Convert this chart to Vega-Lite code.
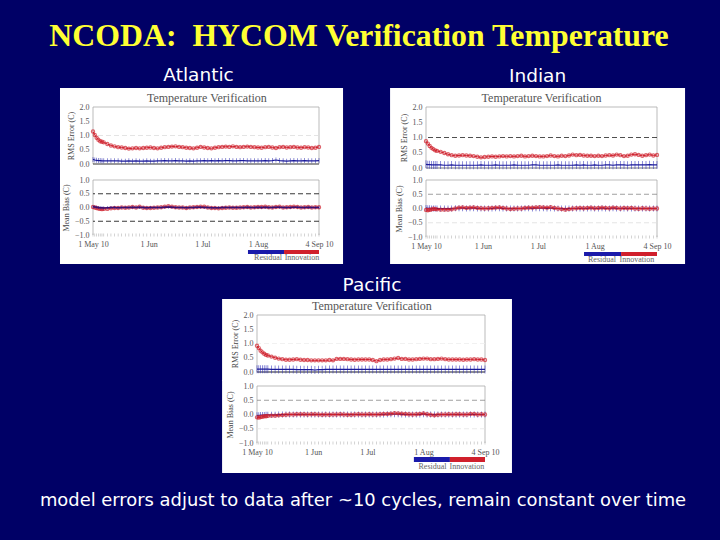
{
"$schema":"https://vega.github.io/schema/vega-lite/v6.json",
"background":"#000066",
"padding":0,
"config":{"view":{"stroke":null},"axis":{"labelFont":"Liberation Serif","titleFont":"Liberation Serif","labelFontSize":8,"titleFontSize":8,"labelColor":"#555","titleColor":"#444","titleFontWeight":"normal","grid":false,"domain":false,"ticks":false,"labelPadding":4,"titlePadding":4,"labelOverlap":false,"labelBound":false,"labelFlush":false},"title":{"fontWeight":"normal"}},
"datasets":{
"one":[{"n":1}],
"atl":[{"day":0,"rmsInn":1.14,"rmsRes":0.16,"biasInn":0.02,"biasRes":0.03},{"day":1,"rmsInn":1.02,"rmsRes":0.14,"biasInn":0.0,"biasRes":0.02},{"day":2,"rmsInn":0.92,"rmsRes":0.13,"biasInn":-0.02,"biasRes":0.01},{"day":3,"rmsInn":0.85,"rmsRes":0.12,"biasInn":-0.04,"biasRes":0.0},{"day":4,"rmsInn":0.8,"rmsRes":0.12,"biasInn":-0.05,"biasRes":-0.01},{"day":5,"rmsInn":0.78,"rmsRes":0.11,"biasInn":-0.06,"biasRes":-0.01},{"day":6,"rmsInn":0.76,"rmsRes":0.11,"biasInn":-0.05,"biasRes":-0.02},{"day":8,"rmsInn":0.7,"rmsRes":0.11,"biasInn":-0.05,"biasRes":-0.01},{"day":10,"rmsInn":0.65,"rmsRes":0.11,"biasInn":-0.03,"biasRes":0.0},{"day":12,"rmsInn":0.62,"rmsRes":0.11,"biasInn":-0.02,"biasRes":0.0},{"day":14,"rmsInn":0.59,"rmsRes":0.11,"biasInn":-0.02,"biasRes":-0.01},{"day":16,"rmsInn":0.58,"rmsRes":0.1,"biasInn":0.0,"biasRes":0.0},{"day":18,"rmsInn":0.56,"rmsRes":0.1,"biasInn":-0.01,"biasRes":0.0},{"day":20,"rmsInn":0.54,"rmsRes":0.11,"biasInn":0.0,"biasRes":0.0},{"day":22,"rmsInn":0.55,"rmsRes":0.1,"biasInn":0.02,"biasRes":0.01},{"day":24,"rmsInn":0.56,"rmsRes":0.11,"biasInn":0.0,"biasRes":0.0},{"day":26,"rmsInn":0.55,"rmsRes":0.1,"biasInn":0.03,"biasRes":0.01},{"day":28,"rmsInn":0.56,"rmsRes":0.1,"biasInn":-0.01,"biasRes":0.0},{"day":30,"rmsInn":0.57,"rmsRes":0.11,"biasInn":-0.02,"biasRes":-0.01},{"day":32,"rmsInn":0.58,"rmsRes":0.1,"biasInn":-0.02,"biasRes":0.0},{"day":34,"rmsInn":0.56,"rmsRes":0.1,"biasInn":-0.01,"biasRes":0.0},{"day":36,"rmsInn":0.55,"rmsRes":0.11,"biasInn":0.0,"biasRes":0.0},{"day":38,"rmsInn":0.57,"rmsRes":0.11,"biasInn":0.01,"biasRes":0.0},{"day":40,"rmsInn":0.59,"rmsRes":0.12,"biasInn":0.03,"biasRes":0.01},{"day":42,"rmsInn":0.6,"rmsRes":0.11,"biasInn":0.05,"biasRes":0.02},{"day":44,"rmsInn":0.61,"rmsRes":0.11,"biasInn":0.03,"biasRes":0.01},{"day":46,"rmsInn":0.62,"rmsRes":0.12,"biasInn":0.01,"biasRes":0.0},{"day":48,"rmsInn":0.6,"rmsRes":0.11,"biasInn":0.0,"biasRes":0.0},{"day":50,"rmsInn":0.59,"rmsRes":0.11,"biasInn":0.0,"biasRes":0.0},{"day":52,"rmsInn":0.57,"rmsRes":0.1,"biasInn":-0.02,"biasRes":-0.01},{"day":54,"rmsInn":0.56,"rmsRes":0.11,"biasInn":0.0,"biasRes":0.0},{"day":56,"rmsInn":0.55,"rmsRes":0.1,"biasInn":0.01,"biasRes":0.0},{"day":58,"rmsInn":0.57,"rmsRes":0.11,"biasInn":0.02,"biasRes":0.01},{"day":60,"rmsInn":0.6,"rmsRes":0.11,"biasInn":0.03,"biasRes":0.01},{"day":62,"rmsInn":0.58,"rmsRes":0.12,"biasInn":0.03,"biasRes":0.0},{"day":64,"rmsInn":0.56,"rmsRes":0.11,"biasInn":0.0,"biasRes":0.0},{"day":66,"rmsInn":0.55,"rmsRes":0.12,"biasInn":-0.02,"biasRes":-0.01},{"day":68,"rmsInn":0.57,"rmsRes":0.11,"biasInn":-0.02,"biasRes":-0.01},{"day":70,"rmsInn":0.59,"rmsRes":0.12,"biasInn":-0.03,"biasRes":-0.01},{"day":72,"rmsInn":0.6,"rmsRes":0.11,"biasInn":-0.02,"biasRes":0.0},{"day":74,"rmsInn":0.61,"rmsRes":0.12,"biasInn":-0.01,"biasRes":0.0},{"day":76,"rmsInn":0.6,"rmsRes":0.12,"biasInn":0.0,"biasRes":0.0},{"day":78,"rmsInn":0.62,"rmsRes":0.11,"biasInn":-0.01,"biasRes":0.0},{"day":80,"rmsInn":0.6,"rmsRes":0.11,"biasInn":-0.01,"biasRes":0.0},{"day":82,"rmsInn":0.59,"rmsRes":0.12,"biasInn":0.0,"biasRes":0.0},{"day":84,"rmsInn":0.6,"rmsRes":0.12,"biasInn":0.01,"biasRes":0.0},{"day":86,"rmsInn":0.61,"rmsRes":0.11,"biasInn":0.02,"biasRes":0.01},{"day":88,"rmsInn":0.6,"rmsRes":0.11,"biasInn":0.0,"biasRes":0.0},{"day":90,"rmsInn":0.59,"rmsRes":0.11,"biasInn":0.01,"biasRes":0.0},{"day":92,"rmsInn":0.58,"rmsRes":0.11,"biasInn":0.02,"biasRes":0.01},{"day":94,"rmsInn":0.57,"rmsRes":0.11,"biasInn":0.02,"biasRes":0.0},{"day":96,"rmsInn":0.59,"rmsRes":0.12,"biasInn":0.03,"biasRes":0.01},{"day":98,"rmsInn":0.6,"rmsRes":0.11,"biasInn":0.01,"biasRes":0.0},{"day":100,"rmsInn":0.58,"rmsRes":0.12,"biasInn":0.0,"biasRes":0.0},{"day":102,"rmsInn":0.56,"rmsRes":0.14,"biasInn":0.02,"biasRes":0.01},{"day":104,"rmsInn":0.59,"rmsRes":0.12,"biasInn":0.03,"biasRes":0.01},{"day":106,"rmsInn":0.6,"rmsRes":0.11,"biasInn":0.0,"biasRes":0.0},{"day":108,"rmsInn":0.58,"rmsRes":0.1,"biasInn":0.01,"biasRes":0.0},{"day":110,"rmsInn":0.59,"rmsRes":0.11,"biasInn":0.02,"biasRes":0.0},{"day":112,"rmsInn":0.6,"rmsRes":0.12,"biasInn":0.03,"biasRes":0.01},{"day":114,"rmsInn":0.58,"rmsRes":0.11,"biasInn":0.02,"biasRes":0.01},{"day":116,"rmsInn":0.57,"rmsRes":0.11,"biasInn":0.0,"biasRes":0.0},{"day":118,"rmsInn":0.59,"rmsRes":0.12,"biasInn":0.01,"biasRes":0.0},{"day":120,"rmsInn":0.58,"rmsRes":0.11,"biasInn":0.02,"biasRes":0.01},{"day":122,"rmsInn":0.56,"rmsRes":0.11,"biasInn":0.0,"biasRes":0.0},{"day":124,"rmsInn":0.57,"rmsRes":0.11,"biasInn":0.01,"biasRes":0.0},{"day":126,"rmsInn":0.6,"rmsRes":0.12,"biasInn":0.01,"biasRes":0.0}],
"ind":[{"day":0,"rmsInn":0.88,"rmsRes":0.12,"biasInn":-0.05,"biasRes":0.02},{"day":1,"rmsInn":0.8,"rmsRes":0.11,"biasInn":-0.06,"biasRes":0.01},{"day":2,"rmsInn":0.72,"rmsRes":0.11,"biasInn":-0.05,"biasRes":0.01},{"day":3,"rmsInn":0.66,"rmsRes":0.1,"biasInn":-0.03,"biasRes":0.0},{"day":4,"rmsInn":0.62,"rmsRes":0.1,"biasInn":-0.01,"biasRes":0.0},{"day":5,"rmsInn":0.58,"rmsRes":0.1,"biasInn":-0.02,"biasRes":0.0},{"day":6,"rmsInn":0.56,"rmsRes":0.1,"biasInn":-0.03,"biasRes":0.0},{"day":8,"rmsInn":0.53,"rmsRes":0.1,"biasInn":-0.04,"biasRes":0.0},{"day":10,"rmsInn":0.49,"rmsRes":0.09,"biasInn":-0.04,"biasRes":0.0},{"day":12,"rmsInn":0.45,"rmsRes":0.09,"biasInn":-0.04,"biasRes":0.0},{"day":14,"rmsInn":0.42,"rmsRes":0.1,"biasInn":-0.03,"biasRes":0.0},{"day":16,"rmsInn":0.4,"rmsRes":0.09,"biasInn":0.0,"biasRes":0.01},{"day":18,"rmsInn":0.41,"rmsRes":0.09,"biasInn":0.03,"biasRes":0.01},{"day":20,"rmsInn":0.42,"rmsRes":0.09,"biasInn":0.04,"biasRes":0.01},{"day":22,"rmsInn":0.41,"rmsRes":0.09,"biasInn":0.02,"biasRes":0.0},{"day":24,"rmsInn":0.4,"rmsRes":0.09,"biasInn":0.03,"biasRes":0.01},{"day":26,"rmsInn":0.39,"rmsRes":0.09,"biasInn":0.04,"biasRes":0.01},{"day":28,"rmsInn":0.37,"rmsRes":0.09,"biasInn":0.02,"biasRes":0.0},{"day":30,"rmsInn":0.35,"rmsRes":0.1,"biasInn":0.01,"biasRes":0.0},{"day":32,"rmsInn":0.36,"rmsRes":0.09,"biasInn":0.0,"biasRes":0.0},{"day":34,"rmsInn":0.37,"rmsRes":0.09,"biasInn":0.01,"biasRes":0.0},{"day":36,"rmsInn":0.38,"rmsRes":0.09,"biasInn":0.02,"biasRes":0.0},{"day":38,"rmsInn":0.37,"rmsRes":0.1,"biasInn":0.03,"biasRes":0.01},{"day":40,"rmsInn":0.38,"rmsRes":0.09,"biasInn":0.04,"biasRes":0.01},{"day":42,"rmsInn":0.39,"rmsRes":0.09,"biasInn":0.02,"biasRes":0.0},{"day":44,"rmsInn":0.38,"rmsRes":0.09,"biasInn":0.0,"biasRes":0.0},{"day":46,"rmsInn":0.39,"rmsRes":0.09,"biasInn":-0.02,"biasRes":0.0},{"day":48,"rmsInn":0.38,"rmsRes":0.1,"biasInn":-0.01,"biasRes":0.0},{"day":50,"rmsInn":0.39,"rmsRes":0.09,"biasInn":0.0,"biasRes":0.0},{"day":52,"rmsInn":0.4,"rmsRes":0.09,"biasInn":0.0,"biasRes":0.0},{"day":54,"rmsInn":0.38,"rmsRes":0.09,"biasInn":0.02,"biasRes":0.01},{"day":56,"rmsInn":0.39,"rmsRes":0.09,"biasInn":0.03,"biasRes":0.01},{"day":58,"rmsInn":0.4,"rmsRes":0.1,"biasInn":0.03,"biasRes":0.0},{"day":60,"rmsInn":0.39,"rmsRes":0.1,"biasInn":0.04,"biasRes":0.01},{"day":62,"rmsInn":0.38,"rmsRes":0.09,"biasInn":0.05,"biasRes":0.01},{"day":64,"rmsInn":0.38,"rmsRes":0.09,"biasInn":0.04,"biasRes":0.01},{"day":66,"rmsInn":0.39,"rmsRes":0.09,"biasInn":0.03,"biasRes":0.0},{"day":68,"rmsInn":0.41,"rmsRes":0.09,"biasInn":0.05,"biasRes":0.01},{"day":70,"rmsInn":0.39,"rmsRes":0.09,"biasInn":0.02,"biasRes":0.0},{"day":72,"rmsInn":0.38,"rmsRes":0.1,"biasInn":0.0,"biasRes":0.0},{"day":74,"rmsInn":0.4,"rmsRes":0.09,"biasInn":-0.02,"biasRes":0.0},{"day":76,"rmsInn":0.39,"rmsRes":0.09,"biasInn":-0.04,"biasRes":0.0},{"day":78,"rmsInn":0.41,"rmsRes":0.09,"biasInn":-0.02,"biasRes":0.0},{"day":80,"rmsInn":0.44,"rmsRes":0.09,"biasInn":0.0,"biasRes":0.0},{"day":82,"rmsInn":0.42,"rmsRes":0.1,"biasInn":0.01,"biasRes":0.0},{"day":84,"rmsInn":0.43,"rmsRes":0.09,"biasInn":0.02,"biasRes":0.0},{"day":86,"rmsInn":0.41,"rmsRes":0.1,"biasInn":0.01,"biasRes":0.0},{"day":88,"rmsInn":0.4,"rmsRes":0.09,"biasInn":0.02,"biasRes":0.0},{"day":90,"rmsInn":0.4,"rmsRes":0.09,"biasInn":0.03,"biasRes":0.01},{"day":92,"rmsInn":0.39,"rmsRes":0.1,"biasInn":0.01,"biasRes":0.0},{"day":94,"rmsInn":0.4,"rmsRes":0.09,"biasInn":0.02,"biasRes":0.0},{"day":96,"rmsInn":0.39,"rmsRes":0.09,"biasInn":0.03,"biasRes":0.01},{"day":98,"rmsInn":0.41,"rmsRes":0.1,"biasInn":0.02,"biasRes":0.0},{"day":100,"rmsInn":0.42,"rmsRes":0.1,"biasInn":0.01,"biasRes":0.0},{"day":102,"rmsInn":0.41,"rmsRes":0.09,"biasInn":0.03,"biasRes":0.01},{"day":104,"rmsInn":0.44,"rmsRes":0.1,"biasInn":0.02,"biasRes":0.0},{"day":106,"rmsInn":0.42,"rmsRes":0.1,"biasInn":0.0,"biasRes":0.0},{"day":108,"rmsInn":0.39,"rmsRes":0.1,"biasInn":0.02,"biasRes":0.0},{"day":110,"rmsInn":0.4,"rmsRes":0.09,"biasInn":0.01,"biasRes":0.0},{"day":112,"rmsInn":0.44,"rmsRes":0.1,"biasInn":0.02,"biasRes":0.0},{"day":114,"rmsInn":0.45,"rmsRes":0.1,"biasInn":0.0,"biasRes":0.0},{"day":116,"rmsInn":0.43,"rmsRes":0.1,"biasInn":-0.01,"biasRes":0.0},{"day":118,"rmsInn":0.4,"rmsRes":0.1,"biasInn":0.01,"biasRes":0.0},{"day":120,"rmsInn":0.42,"rmsRes":0.1,"biasInn":0.0,"biasRes":0.0},{"day":122,"rmsInn":0.44,"rmsRes":0.11,"biasInn":-0.01,"biasRes":0.0},{"day":124,"rmsInn":0.41,"rmsRes":0.1,"biasInn":0.0,"biasRes":0.0},{"day":126,"rmsInn":0.43,"rmsRes":0.1,"biasInn":0.0,"biasRes":0.0}],
"pac":[{"day":0,"rmsInn":0.92,"rmsRes":0.1,"biasInn":-0.1,"biasRes":-0.03},{"day":1,"rmsInn":0.84,"rmsRes":0.1,"biasInn":-0.11,"biasRes":-0.03},{"day":2,"rmsInn":0.75,"rmsRes":0.1,"biasInn":-0.09,"biasRes":-0.02},{"day":3,"rmsInn":0.69,"rmsRes":0.1,"biasInn":-0.08,"biasRes":-0.02},{"day":4,"rmsInn":0.64,"rmsRes":0.1,"biasInn":-0.06,"biasRes":-0.02},{"day":5,"rmsInn":0.6,"rmsRes":0.1,"biasInn":-0.06,"biasRes":-0.01},{"day":6,"rmsInn":0.58,"rmsRes":0.1,"biasInn":-0.05,"biasRes":-0.01},{"day":8,"rmsInn":0.54,"rmsRes":0.09,"biasInn":-0.04,"biasRes":-0.01},{"day":10,"rmsInn":0.5,"rmsRes":0.09,"biasInn":-0.04,"biasRes":-0.01},{"day":12,"rmsInn":0.47,"rmsRes":0.09,"biasInn":-0.03,"biasRes":0.0},{"day":14,"rmsInn":0.45,"rmsRes":0.09,"biasInn":-0.02,"biasRes":0.0},{"day":16,"rmsInn":0.43,"rmsRes":0.09,"biasInn":-0.01,"biasRes":0.0},{"day":18,"rmsInn":0.43,"rmsRes":0.09,"biasInn":0.0,"biasRes":0.0},{"day":20,"rmsInn":0.44,"rmsRes":0.09,"biasInn":0.0,"biasRes":0.0},{"day":22,"rmsInn":0.45,"rmsRes":0.08,"biasInn":0.01,"biasRes":0.0},{"day":24,"rmsInn":0.43,"rmsRes":0.08,"biasInn":0.01,"biasRes":0.0},{"day":26,"rmsInn":0.42,"rmsRes":0.08,"biasInn":0.01,"biasRes":0.0},{"day":28,"rmsInn":0.42,"rmsRes":0.08,"biasInn":0.0,"biasRes":0.0},{"day":30,"rmsInn":0.41,"rmsRes":0.08,"biasInn":0.01,"biasRes":0.0},{"day":32,"rmsInn":0.41,"rmsRes":0.07,"biasInn":0.01,"biasRes":0.0},{"day":34,"rmsInn":0.41,"rmsRes":0.08,"biasInn":0.0,"biasRes":0.0},{"day":36,"rmsInn":0.41,"rmsRes":0.08,"biasInn":-0.01,"biasRes":0.0},{"day":38,"rmsInn":0.41,"rmsRes":0.09,"biasInn":0.0,"biasRes":0.0},{"day":40,"rmsInn":0.42,"rmsRes":0.09,"biasInn":-0.01,"biasRes":0.0},{"day":42,"rmsInn":0.41,"rmsRes":0.09,"biasInn":0.0,"biasRes":0.0},{"day":44,"rmsInn":0.46,"rmsRes":0.09,"biasInn":0.0,"biasRes":0.0},{"day":46,"rmsInn":0.46,"rmsRes":0.09,"biasInn":0.01,"biasRes":0.0},{"day":48,"rmsInn":0.46,"rmsRes":0.09,"biasInn":0.0,"biasRes":0.0},{"day":50,"rmsInn":0.45,"rmsRes":0.09,"biasInn":-0.01,"biasRes":0.0},{"day":52,"rmsInn":0.44,"rmsRes":0.09,"biasInn":-0.01,"biasRes":0.0},{"day":54,"rmsInn":0.43,"rmsRes":0.09,"biasInn":0.0,"biasRes":0.0},{"day":56,"rmsInn":0.44,"rmsRes":0.09,"biasInn":0.01,"biasRes":0.0},{"day":58,"rmsInn":0.44,"rmsRes":0.09,"biasInn":0.0,"biasRes":0.0},{"day":60,"rmsInn":0.44,"rmsRes":0.09,"biasInn":0.0,"biasRes":0.0},{"day":62,"rmsInn":0.44,"rmsRes":0.09,"biasInn":0.01,"biasRes":0.0},{"day":64,"rmsInn":0.42,"rmsRes":0.09,"biasInn":0.0,"biasRes":0.0},{"day":66,"rmsInn":0.38,"rmsRes":0.09,"biasInn":0.0,"biasRes":0.0},{"day":68,"rmsInn":0.42,"rmsRes":0.09,"biasInn":0.01,"biasRes":0.0},{"day":70,"rmsInn":0.44,"rmsRes":0.09,"biasInn":0.02,"biasRes":0.0},{"day":72,"rmsInn":0.44,"rmsRes":0.09,"biasInn":0.02,"biasRes":0.01},{"day":74,"rmsInn":0.45,"rmsRes":0.09,"biasInn":0.03,"biasRes":0.01},{"day":76,"rmsInn":0.47,"rmsRes":0.09,"biasInn":0.05,"biasRes":0.01},{"day":78,"rmsInn":0.49,"rmsRes":0.09,"biasInn":0.04,"biasRes":0.01},{"day":80,"rmsInn":0.46,"rmsRes":0.09,"biasInn":0.03,"biasRes":0.0},{"day":82,"rmsInn":0.46,"rmsRes":0.09,"biasInn":0.02,"biasRes":0.0},{"day":84,"rmsInn":0.44,"rmsRes":0.09,"biasInn":0.01,"biasRes":0.0},{"day":86,"rmsInn":0.44,"rmsRes":0.09,"biasInn":0.0,"biasRes":0.0},{"day":88,"rmsInn":0.45,"rmsRes":0.09,"biasInn":0.01,"biasRes":0.0},{"day":90,"rmsInn":0.46,"rmsRes":0.09,"biasInn":0.02,"biasRes":0.0},{"day":92,"rmsInn":0.47,"rmsRes":0.09,"biasInn":0.04,"biasRes":0.01},{"day":94,"rmsInn":0.47,"rmsRes":0.09,"biasInn":0.01,"biasRes":0.0},{"day":96,"rmsInn":0.45,"rmsRes":0.09,"biasInn":-0.01,"biasRes":0.0},{"day":98,"rmsInn":0.45,"rmsRes":0.09,"biasInn":-0.03,"biasRes":0.0},{"day":100,"rmsInn":0.46,"rmsRes":0.09,"biasInn":-0.01,"biasRes":0.0},{"day":102,"rmsInn":0.47,"rmsRes":0.09,"biasInn":0.0,"biasRes":0.0},{"day":104,"rmsInn":0.45,"rmsRes":0.09,"biasInn":0.0,"biasRes":0.0},{"day":106,"rmsInn":0.44,"rmsRes":0.09,"biasInn":0.01,"biasRes":0.0},{"day":108,"rmsInn":0.44,"rmsRes":0.09,"biasInn":0.0,"biasRes":0.0},{"day":110,"rmsInn":0.44,"rmsRes":0.09,"biasInn":0.01,"biasRes":0.0},{"day":112,"rmsInn":0.44,"rmsRes":0.09,"biasInn":0.01,"biasRes":0.0},{"day":114,"rmsInn":0.43,"rmsRes":0.09,"biasInn":0.0,"biasRes":0.0},{"day":116,"rmsInn":0.44,"rmsRes":0.09,"biasInn":0.0,"biasRes":0.0},{"day":118,"rmsInn":0.44,"rmsRes":0.09,"biasInn":0.02,"biasRes":0.0},{"day":120,"rmsInn":0.45,"rmsRes":0.09,"biasInn":0.02,"biasRes":0.0},{"day":122,"rmsInn":0.44,"rmsRes":0.09,"biasInn":0.0,"biasRes":0.0},{"day":124,"rmsInn":0.44,"rmsRes":0.09,"biasInn":0.01,"biasRes":0.0},{"day":126,"rmsInn":0.42,"rmsRes":0.09,"biasInn":0.0,"biasRes":0.0}]
},
"spacing":0,
"vconcat":[
{"width":720,"height":66,"data":{"values":[{"label":"NCODA:\u00a0 HYCOM Verification Temperature"}]},"mark":{"type":"text","font":"Liberation Serif","fontWeight":"bold","fontSize":31.8,"color":"#FFFF33","dx":-1,"dy":3},"encoding":{"text":{"field":"label"}}},
{"spacing":0,"hconcat":[
{"width":59,"height":1,"data":{"values":[]},"mark":"text"},
{"spacing":-1,"title":{"text":"Atlantic","font":"DejaVu Sans","fontSize":18.5,"color":"#ffffff","anchor":"middle","dx":-3,"offset":3},"vconcat":[
{"width":226,"height":57,"layer":[
{"data":{"name":"one"},"mark":{"type":"rect","color":"#ffffff"},"encoding":{"x":{"datum":-18.4,"type":"quantitative","scale":{"domain":[0,126],"nice":false},"axis":null},"x2":{"datum":139.4},"y":{"datum":2.67,"type":"quantitative","scale":{"domain":[0,2],"nice":false},"axis":{"values":[0,0.5,1,1.5,2],"tickCount":5,"format":".1f","title":"RMS Error (C)","zindex":1}},"y2":{"datum":-0.351}}},
{"data":{"name":"one"},"mark":{"type":"text","font":"Liberation Serif","fontSize":12,"color":"#555555","text":"Temperature Verification"},"encoding":{"x":{"datum":63.5},"y":{"datum":2.32}}},
{"data":{"name":"one"},"mark":{"type":"rule","color":"#aaaaaa","size":0.8},"encoding":{"y":{"datum":2}}},
{"data":{"name":"one"},"mark":{"type":"rule","color":"#aaaaaa","size":0.8},"encoding":{"x":{"datum":0}}},
{"data":{"name":"one"},"mark":{"type":"rule","color":"#aaaaaa","size":0.8},"encoding":{"x":{"datum":126}}},
{"data":{"name":"one"},"mark":{"type":"rule","color":"#dddddd","size":0.8,"strokeDash":[5,3]},"encoding":{"y":{"datum":1}}},
{"data":{"name":"one"},"mark":{"type":"rule","color":"#333333","size":1},"encoding":{"y":{"datum":0}}},
{"data":{"name":"atl"},"mark":{"type":"tick","color":"#2222aa","size":5,"thickness":0.7},"encoding":{"x":{"field":"day","type":"quantitative"},"y":{"field":"rmsRes","type":"quantitative"}}},
{"data":{"name":"atl"},"mark":{"type":"line","color":"#1a1a99","strokeWidth":1.2},"encoding":{"x":{"field":"day","type":"quantitative"},"y":{"field":"rmsRes","type":"quantitative"}}},
{"data":{"name":"atl"},"mark":{"type":"line","color":"#d0202c","strokeWidth":1},"encoding":{"x":{"field":"day","type":"quantitative"},"y":{"field":"rmsInn","type":"quantitative"}}},
{"data":{"name":"atl"},"mark":{"type":"point","color":"#d0202c","size":10,"strokeWidth":1.2},"encoding":{"x":{"field":"day","type":"quantitative"},"y":{"field":"rmsInn","type":"quantitative"}}}
]},
{"width":226,"height":55,"layer":[
{"data":{"name":"one"},"mark":{"type":"rect","color":"#ffffff"},"encoding":{"x":{"datum":-18.4,"type":"quantitative","scale":{"domain":[0,126],"nice":false},"axis":{"values":[0,31,61,92,126],"labelExpr":"{0:'1 May 10',31:'1 Jun',61:'1 Jul',92:'1 Aug',126:'4 Sep 10'}[datum.value]","title":null,"labelPadding":5,"zindex":1}},"x2":{"datum":139.4},"y":{"datum":1.218,"type":"quantitative","scale":{"domain":[-1,1],"nice":false},"axis":{"values":[-1,-0.5,0,0.5,1],"tickCount":5,"format":".1f","title":"Mean Bias (C)","zindex":1}},"y2":{"datum":-2.05}}},
{"data":{"name":"one"},"mark":{"type":"rule","color":"#aaaaaa","size":0.8},"encoding":{"y":{"datum":1}}},
{"data":{"name":"one"},"mark":{"type":"rule","color":"#aaaaaa","size":0.8},"encoding":{"x":{"datum":0}}},
{"data":{"name":"one"},"mark":{"type":"rule","color":"#aaaaaa","size":0.8},"encoding":{"x":{"datum":126}}},
{"data":{"name":"one"},"mark":{"type":"rule","color":"#222222","size":0.9,"strokeDash":[5,3]},"encoding":{"y":{"datum":0.5}}},
{"data":{"name":"one"},"mark":{"type":"rule","color":"#222222","size":0.9,"strokeDash":[5,3]},"encoding":{"y":{"datum":-0.5}}},
{"data":{"name":"atl"},"mark":{"type":"tick","color":"#999999","size":3,"thickness":0.6},"encoding":{"x":{"field":"day","type":"quantitative"},"y":{"datum":-1}}},
{"data":{"name":"atl"},"mark":{"type":"line","color":"#d0202c","strokeWidth":1},"encoding":{"x":{"field":"day","type":"quantitative"},"y":{"field":"biasInn","type":"quantitative"}}},
{"data":{"name":"atl"},"mark":{"type":"point","color":"#d0202c","size":10,"strokeWidth":1.2},"encoding":{"x":{"field":"day","type":"quantitative"},"y":{"field":"biasInn","type":"quantitative"}}},
{"data":{"name":"atl"},"mark":{"type":"tick","color":"#2222aa","size":3,"thickness":0.7,"opacity":0.8},"encoding":{"x":{"field":"day","type":"quantitative"},"y":{"field":"biasRes","type":"quantitative"}}},
{"data":{"name":"atl"},"mark":{"type":"line","color":"#3a1070","strokeWidth":1.4},"encoding":{"x":{"field":"day","type":"quantitative"},"y":{"field":"biasRes","type":"quantitative"}}},
{"data":{"name":"one"},"mark":{"type":"rect","color":"#1a1aaa"},"encoding":{"x":{"datum":86.4},"x2":{"datum":106.5},"y":{"datum":-1.545},"y2":{"datum":-1.69}}},
{"data":{"name":"one"},"mark":{"type":"rect","color":"#d0202c"},"encoding":{"x":{"datum":106.5},"x2":{"datum":126},"y":{"datum":-1.545},"y2":{"datum":-1.69}}},
{"data":{"name":"one"},"mark":{"type":"text","font":"Liberation Serif","fontSize":8,"color":"#666666","text":"Residual"},"encoding":{"x":{"datum":97.6},"y":{"datum":-1.84}}},
{"data":{"name":"one"},"mark":{"type":"text","font":"Liberation Serif","fontSize":8,"color":"#666666","text":"Innovation"},"encoding":{"x":{"datum":116.5},"y":{"datum":-1.84}}}
]}
]},
{"width":46,"height":1,"data":{"values":[]},"mark":"text"},
{"spacing":-1,"title":{"text":"Indian","font":"DejaVu Sans","fontSize":18.5,"color":"#ffffff","anchor":"middle","offset":3},"vconcat":[
{"width":231,"height":61,"layer":[
{"data":{"name":"one"},"mark":{"type":"rect","color":"#ffffff"},"encoding":{"x":{"datum":-19.6,"type":"quantitative","scale":{"domain":[0,126],"nice":false},"axis":null},"x2":{"datum":141.3},"y":{"datum":2.62,"type":"quantitative","scale":{"domain":[0,2],"nice":false},"axis":{"values":[0,0.5,1,1.5,2],"tickCount":5,"format":".1f","title":"RMS Error (C)","zindex":1}},"y2":{"datum":-0.197}}},
{"data":{"name":"one"},"mark":{"type":"text","font":"Liberation Serif","fontSize":12,"color":"#555555","text":"Temperature Verification"},"encoding":{"x":{"datum":63},"y":{"datum":2.3}}},
{"data":{"name":"one"},"mark":{"type":"rule","color":"#aaaaaa","size":0.8},"encoding":{"y":{"datum":2}}},
{"data":{"name":"one"},"mark":{"type":"rule","color":"#aaaaaa","size":0.8},"encoding":{"x":{"datum":0}}},
{"data":{"name":"one"},"mark":{"type":"rule","color":"#aaaaaa","size":0.8},"encoding":{"x":{"datum":126}}},
{"data":{"name":"one"},"mark":{"type":"rule","color":"#222222","size":0.8,"strokeDash":[5,3]},"encoding":{"y":{"datum":1}}},
{"data":{"name":"one"},"mark":{"type":"rule","color":"#777777","size":1},"encoding":{"y":{"datum":0}}},
{"data":{"name":"ind"},"mark":{"type":"tick","color":"#3333bb","size":8,"thickness":0.7,"opacity":0.8},"encoding":{"x":{"field":"day","type":"quantitative"},"y":{"field":"rmsRes","type":"quantitative"}}},
{"data":{"name":"ind"},"mark":{"type":"line","color":"#1a1a99","strokeWidth":1.2},"encoding":{"x":{"field":"day","type":"quantitative"},"y":{"field":"rmsRes","type":"quantitative"}}},
{"data":{"name":"ind"},"mark":{"type":"line","color":"#d0202c","strokeWidth":1},"encoding":{"x":{"field":"day","type":"quantitative"},"y":{"field":"rmsInn","type":"quantitative"}}},
{"data":{"name":"ind"},"mark":{"type":"point","color":"#d0202c","size":10,"strokeWidth":1.2},"encoding":{"x":{"field":"day","type":"quantitative"},"y":{"field":"rmsInn","type":"quantitative"}}}
]},
{"width":231,"height":57,"layer":[
{"data":{"name":"one"},"mark":{"type":"rect","color":"#ffffff"},"encoding":{"x":{"datum":-19.6,"type":"quantitative","scale":{"domain":[0,126],"nice":false},"axis":{"values":[0,31,61,92,126],"labelExpr":"{0:'1 May 10',31:'1 Jun',61:'1 Jul',92:'1 Aug',126:'4 Sep 10'}[datum.value]","title":null,"labelPadding":5,"zindex":1}},"x2":{"datum":141.3},"y":{"datum":1.21,"type":"quantitative","scale":{"domain":[-1,1],"nice":false},"axis":{"values":[-1,-0.5,0,0.5,1],"tickCount":5,"format":".1f","title":"Mean Bias (C)","zindex":1}},"y2":{"datum":-1.95}}},
{"data":{"name":"one"},"mark":{"type":"rule","color":"#aaaaaa","size":0.8},"encoding":{"y":{"datum":1}}},
{"data":{"name":"one"},"mark":{"type":"rule","color":"#aaaaaa","size":0.8},"encoding":{"x":{"datum":0}}},
{"data":{"name":"one"},"mark":{"type":"rule","color":"#aaaaaa","size":0.8},"encoding":{"x":{"datum":126}}},
{"data":{"name":"one"},"mark":{"type":"rule","color":"#888888","size":0.8,"strokeDash":[5,3]},"encoding":{"y":{"datum":0.5}}},
{"data":{"name":"one"},"mark":{"type":"rule","color":"#dddddd","size":0.8,"strokeDash":[5,3]},"encoding":{"y":{"datum":-0.5}}},
{"data":{"name":"ind"},"mark":{"type":"tick","color":"#999999","size":3,"thickness":0.6},"encoding":{"x":{"field":"day","type":"quantitative"},"y":{"datum":-1}}},
{"data":{"name":"ind"},"mark":{"type":"tick","color":"#3333bb","size":6,"thickness":0.7,"opacity":0.8},"encoding":{"x":{"field":"day","type":"quantitative"},"y":{"field":"biasRes","type":"quantitative"}}},
{"data":{"name":"ind"},"mark":{"type":"line","color":"#3a1070","strokeWidth":1},"encoding":{"x":{"field":"day","type":"quantitative"},"y":{"field":"biasRes","type":"quantitative"}}},
{"data":{"name":"ind"},"mark":{"type":"line","color":"#d0202c","strokeWidth":1},"encoding":{"x":{"field":"day","type":"quantitative"},"y":{"field":"biasInn","type":"quantitative"}}},
{"data":{"name":"ind"},"mark":{"type":"point","color":"#d0202c","size":10,"strokeWidth":1.2},"encoding":{"x":{"field":"day","type":"quantitative"},"y":{"field":"biasInn","type":"quantitative"}}},
{"data":{"name":"one"},"mark":{"type":"rect","color":"#1a1aaa"},"encoding":{"x":{"datum":86.2},"x2":{"datum":106.4},"y":{"datum":-1.53},"y2":{"datum":-1.67}}},
{"data":{"name":"one"},"mark":{"type":"rect","color":"#d0202c"},"encoding":{"x":{"datum":106.4},"x2":{"datum":126},"y":{"datum":-1.53},"y2":{"datum":-1.67}}},
{"data":{"name":"one"},"mark":{"type":"text","font":"Liberation Serif","fontSize":8,"color":"#666666","text":"Residual"},"encoding":{"x":{"datum":96},"y":{"datum":-1.81}}},
{"data":{"name":"one"},"mark":{"type":"text","font":"Liberation Serif","fontSize":8,"color":"#666666","text":"Innovation"},"encoding":{"x":{"datum":115},"y":{"datum":-1.81}}}
]}
]}
]},
{"width":720,"height":11,"data":{"values":[]},"mark":"text"},
{"spacing":0,"hconcat":[
{"width":222,"height":1,"data":{"values":[]},"mark":"text"},
{"spacing":-1,"title":{"text":"Pacific","font":"DejaVu Sans","fontSize":18.5,"color":"#ffffff","anchor":"middle","dx":5,"offset":4.5},"vconcat":[
{"width":228,"height":57,"layer":[
{"data":{"name":"one"},"mark":{"type":"rect","color":"#ffffff"},"encoding":{"x":{"datum":-19.3,"type":"quantitative","scale":{"domain":[0,126],"nice":false},"axis":null},"x2":{"datum":140.9},"y":{"datum":2.56,"type":"quantitative","scale":{"domain":[0,2],"nice":false},"axis":{"values":[0,0.5,1,1.5,2],"tickCount":5,"format":".1f","title":"RMS Error (C)","zindex":1}},"y2":{"datum":-0.315}}},
{"data":{"name":"one"},"mark":{"type":"text","font":"Liberation Serif","fontSize":12,"color":"#555555","text":"Temperature Verification"},"encoding":{"x":{"datum":63.5},"y":{"datum":2.32}}},
{"data":{"name":"one"},"mark":{"type":"rule","color":"#aaaaaa","size":0.8},"encoding":{"y":{"datum":2}}},
{"data":{"name":"one"},"mark":{"type":"rule","color":"#aaaaaa","size":0.8},"encoding":{"x":{"datum":0}}},
{"data":{"name":"one"},"mark":{"type":"rule","color":"#aaaaaa","size":0.8},"encoding":{"x":{"datum":126}}},
{"data":{"name":"one"},"mark":{"type":"rule","color":"#eeeeee","size":0.8,"strokeDash":[5,3]},"encoding":{"y":{"datum":1}}},
{"data":{"name":"one"},"mark":{"type":"rule","color":"#222222","size":1},"encoding":{"y":{"datum":0}}},
{"data":{"name":"pac"},"mark":{"type":"tick","color":"#3333bb","size":8,"thickness":0.7,"opacity":0.8},"encoding":{"x":{"field":"day","type":"quantitative"},"y":{"field":"rmsRes","type":"quantitative"}}},
{"data":{"name":"pac"},"mark":{"type":"line","color":"#1a1a99","strokeWidth":1.2},"encoding":{"x":{"field":"day","type":"quantitative"},"y":{"field":"rmsRes","type":"quantitative"}}},
{"data":{"name":"pac"},"mark":{"type":"line","color":"#d0202c","strokeWidth":1},"encoding":{"x":{"field":"day","type":"quantitative"},"y":{"field":"rmsInn","type":"quantitative"}}},
{"data":{"name":"pac"},"mark":{"type":"point","color":"#d0202c","size":10,"strokeWidth":1.2},"encoding":{"x":{"field":"day","type":"quantitative"},"y":{"field":"rmsInn","type":"quantitative"}}}
]},
{"width":228,"height":57,"layer":[
{"data":{"name":"one"},"mark":{"type":"rect","color":"#ffffff"},"encoding":{"x":{"datum":-19.3,"type":"quantitative","scale":{"domain":[0,126],"nice":false},"axis":{"values":[0,31,61,92,126],"labelExpr":"{0:'1 May 10',31:'1 Jun',61:'1 Jul',92:'1 Aug',126:'4 Sep 10'}[datum.value]","title":null,"labelPadding":5,"zindex":1}},"x2":{"datum":140.9},"y":{"datum":1.21,"type":"quantitative","scale":{"domain":[-1,1],"nice":false},"axis":{"values":[-1,-0.5,0,0.5,1],"tickCount":5,"format":".1f","title":"Mean Bias (C)","zindex":1}},"y2":{"datum":-2.05}}},
{"data":{"name":"one"},"mark":{"type":"rule","color":"#aaaaaa","size":0.8},"encoding":{"y":{"datum":1}}},
{"data":{"name":"one"},"mark":{"type":"rule","color":"#aaaaaa","size":0.8},"encoding":{"x":{"datum":0}}},
{"data":{"name":"one"},"mark":{"type":"rule","color":"#aaaaaa","size":0.8},"encoding":{"x":{"datum":126}}},
{"data":{"name":"one"},"mark":{"type":"rule","color":"#888888","size":0.8,"strokeDash":[5,3]},"encoding":{"y":{"datum":0.5}}},
{"data":{"name":"one"},"mark":{"type":"rule","color":"#e4e4e4","size":0.8,"strokeDash":[5,3]},"encoding":{"y":{"datum":-0.5}}},
{"data":{"name":"pac"},"mark":{"type":"tick","color":"#999999","size":3,"thickness":0.6},"encoding":{"x":{"field":"day","type":"quantitative"},"y":{"datum":-1}}},
{"data":{"name":"pac"},"mark":{"type":"tick","color":"#3333bb","size":6,"thickness":0.7,"opacity":0.8},"encoding":{"x":{"field":"day","type":"quantitative"},"y":{"field":"biasRes","type":"quantitative"}}},
{"data":{"name":"pac"},"mark":{"type":"line","color":"#3a1070","strokeWidth":1},"encoding":{"x":{"field":"day","type":"quantitative"},"y":{"field":"biasRes","type":"quantitative"}}},
{"data":{"name":"pac"},"mark":{"type":"line","color":"#d0202c","strokeWidth":1},"encoding":{"x":{"field":"day","type":"quantitative"},"y":{"field":"biasInn","type":"quantitative"}}},
{"data":{"name":"pac"},"mark":{"type":"point","color":"#d0202c","size":10,"strokeWidth":1.2},"encoding":{"x":{"field":"day","type":"quantitative"},"y":{"field":"biasInn","type":"quantitative"}}},
{"data":{"name":"one"},"mark":{"type":"rect","color":"#1a1aaa"},"encoding":{"x":{"datum":86.7},"x2":{"datum":106.6},"y":{"datum":-1.49},"y2":{"datum":-1.67}}},
{"data":{"name":"one"},"mark":{"type":"rect","color":"#d0202c"},"encoding":{"x":{"datum":106.6},"x2":{"datum":126},"y":{"datum":-1.49},"y2":{"datum":-1.67}}},
{"data":{"name":"one"},"mark":{"type":"text","font":"Liberation Serif","fontSize":8,"color":"#666666","text":"Residual"},"encoding":{"x":{"datum":97},"y":{"datum":-1.85}}},
{"data":{"name":"one"},"mark":{"type":"text","font":"Liberation Serif","fontSize":8,"color":"#666666","text":"Innovation"},"encoding":{"x":{"datum":116},"y":{"datum":-1.85}}}
]}
]}
]},
{"width":720,"height":67,"data":{"values":[{"label":"model errors adjust to data after ~10 cycles, remain constant over time"}]},"mark":{"type":"text","font":"DejaVu Sans","fontSize":17.9,"color":"#ffffff","dx":3,"dy":-5.5},"encoding":{"text":{"field":"label"}}}
]
}
